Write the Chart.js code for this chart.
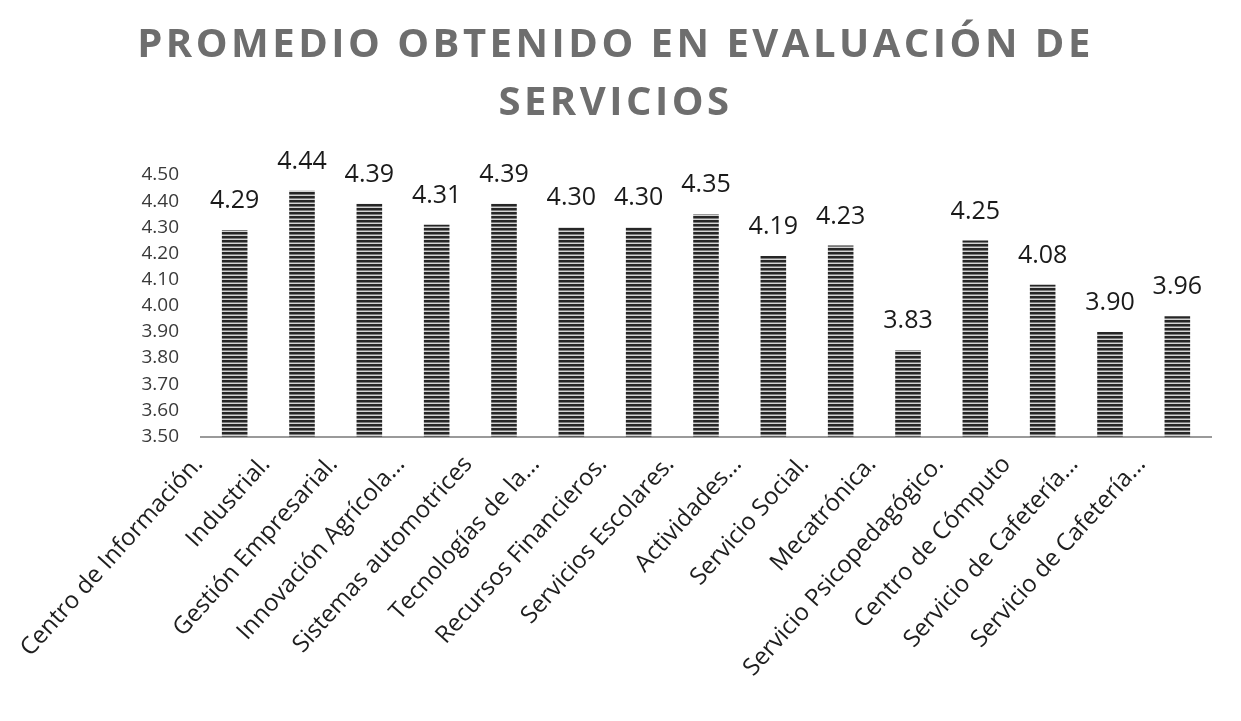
<!DOCTYPE html>
<html lang="es">
<head>
<meta charset="utf-8">
<title>Promedio obtenido en evaluación de servicios</title>
<script src="https://cdn.jsdelivr.net/npm/chart.js@4.4.1/dist/chart.umd.min.js"></script>
<style>
  html, body { margin: 0; padding: 0; background: #fff; }
  #wrap { width: 1241px; height: 721px; position: relative; }
</style>
</head>
<body>
<div id="wrap"><canvas id="grafica" width="1241" height="721"></canvas></div>
<script>
const servicios = [
    'Centro de Información.', 'Industrial.', 'Gestión Empresarial.', 'Innovación Agrícola...',
    'Sistemas automotrices', 'Tecnologías de la...', 'Recursos Financieros.', 'Servicios Escolares.',
    'Actividades...', 'Servicio Social.', 'Mecatrónica.', 'Servicio Psicopedagógico.',
    'Centro de Cómputo', 'Servicio de Cafetería...', 'Servicio de Cafetería...'
];
const promedios = [4.29, 4.44, 4.39, 4.31, 4.39, 4.30, 4.30, 4.35, 4.19, 4.23, 3.83, 4.25, 4.08, 3.90, 3.96];
const tituloLineas = ['PROMEDIO OBTENIDO EN EVALUACIÓN DE', 'SERVICIOS'];
const yMin = 3.5;
const yMax = 4.5;
const yPaso = 0.1;

// striped fill, like the scanned bars
function rayado() {
    const c = document.createElement('canvas');
    c.width = 4; c.height = 4;
    const g = c.getContext('2d');
    g.fillStyle = '#262626'; g.fillRect(0, 0, 4, 2);
    g.fillStyle = '#7a7a7a'; g.fillRect(0, 2, 4, 1);
    g.fillStyle = '#d4d4d4'; g.fillRect(0, 3, 4, 1);
    return g.createPattern(c, 'repeat');
}

const etiquetas = {
    id: 'etiquetas',
    afterDatasetsDraw(chart) {
        const ctx = chart.ctx;
        const meta = chart.getDatasetMeta(0);
        ctx.save();
        ctx.font = '25px "Open Sans"';
        ctx.fillStyle = '#1a1a1a';
        ctx.textAlign = 'center';
        ctx.textBaseline = 'middle';
        meta.data.forEach(function(bar, i) {
            ctx.fillText(promedios[i].toFixed(2), bar.x, bar.y - 29);
        });
        ctx.restore();
    }
};

// title letter spacing
const espaciado = {
    id: 'espaciado',
    afterInit(chart) {
        const tb = chart.titleBlock;
        if (!tb) return;
        const orig = tb.draw.bind(tb);
        tb.draw = function() {
            const c = tb.ctx;
            const prev = c.letterSpacing;
            c.letterSpacing = '3.5px';
            orig();
            c.letterSpacing = prev;
        };
    }
};

const ctx = document.getElementById('grafica').getContext('2d');

new Chart(ctx, {
    type: 'bar',
    data: {
        labels: servicios,
        datasets: [{
            data: promedios,
            backgroundColor: rayado(),
            borderWidth: 0,
            barPercentage: 0.38,
            categoryPercentage: 1
        }]
    },
    options: {
        responsive: false,
        animation: false,
        layout: { padding: { left: 20, right: 30, top: 0, bottom: 33 } },
        plugins: {
            legend: { display: false },
            tooltip: { enabled: false },
            title: {
                display: true,
                text: tituloLineas,
                color: '#6e6e6e',
                font: { family: '"Open Sans"', size: 40, weight: 'bold', lineHeight: 1.45 },
                padding: { top: 17, bottom: 42 }
            }
        },
        scales: {
            x: {
                grid: { display: false },
                border: { display: true, color: '#9a9a9a', width: 2 },
                ticks: {
                    color: '#1e1e1e',
                    font: { family: '"Open Sans"', size: 24 },
                    minRotation: 48,
                    maxRotation: 48,
                    autoSkip: false,
                    padding: 6,
                    labelOffset: -36
                }
            },
            y: {
                min: yMin,
                max: yMax,
                grid: { display: false },
                border: { display: false },
                afterFit: function(scale) { scale.width = 181; },
                ticks: {
                    stepSize: yPaso,
                    autoSkip: false,
                    color: '#3a3a3a',
                    font: { family: '"Open Sans"', size: 19 },
                    padding: 14,
                    callback: function(v) { return Number(v).toFixed(2); }
                }
            }
        }
    },
    plugins: [etiquetas, espaciado]
});
</script>
</body>
</html>
